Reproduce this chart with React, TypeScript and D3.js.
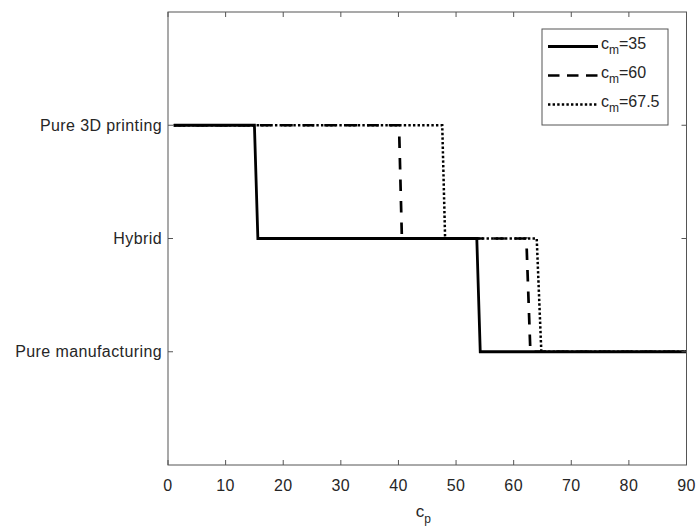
import { useRef, useEffect } from "react";
import * as d3 from "d3";

// categories on the y axis (1 = bottom)
const levels = ["Pure manufacturing", "Hybrid", "Pure 3D printing"];
const xTicks = [0, 10, 20, 30, 40, 50, 60, 70, 80, 90];

// step series
const cm35X = [1, 15.0, 15.6, 53.6, 54.2, 90];
const cm35Y = [3, 3, 2, 2, 1, 1];
const cm60X = [1, 40.1, 40.6, 62.2, 62.9, 90];
const cm60Y = [3, 3, 2, 2, 1, 1];
const cm675X = [1, 47.6, 48.1, 64.0, 64.8, 90];
const cm675Y = [3, 3, 2, 2, 1, 1];

const seriesLabels = ["35", "60", "67.5"];

const INK = "#262626";
const AXIS = "#555";
const FONT = "'Liberation Sans', Arial, Helvetica, sans-serif";

export default function App() {
  const svgRef = useRef<SVGSVGElement>(null);

  useEffect(() => {
    if (!svgRef.current) return;
    const svg = d3.select(svgRef.current);
    svg.selectAll("*").remove();

    const width = 699;
    const height = 531;
    const margin = { top: 12, right: 12.5, bottom: 66, left: 168 };
    const innerW = width - margin.left - margin.right;
    const innerH = height - margin.top - margin.bottom;

    const x = d3.scaleLinear().domain([0, 90]).range([0, innerW]);
    const y = d3.scaleLinear().domain([0, 4]).range([innerH, 0]);

    const g = svg.append("g").attr("transform", `translate(${margin.left},${margin.top})`);

    // series
    const line = d3.line<[number, number]>().x((d) => x(d[0])).y((d) => y(d[1]));
    const series = [
      { xs: cm60X, ys: cm60Y, dash: "11.5 10", width: 2.7 },
      { xs: cm675X, ys: cm675Y, dash: "2.4 2.2", width: 2.5 },
      { xs: cm35X, ys: cm35Y, dash: null as string | null, width: 2.8 },
    ];
    series.forEach((s) => {
      const pts = s.xs.map((v, i) => [v, s.ys[i]] as [number, number]);
      const p = g.append("path").datum(pts).attr("d", line)
        .attr("fill", "none").attr("stroke", "#000").attr("stroke-width", s.width)
        .attr("stroke-linejoin", "miter");
      if (s.dash) p.attr("stroke-dasharray", s.dash);
    });

    // box
    g.append("rect").attr("x", 0).attr("y", 0).attr("width", innerW).attr("height", innerH)
      .attr("fill", "none").attr("stroke", AXIS).attr("stroke-width", 1);

    const tickLen = 5;
    // x ticks (bottom & top, inward)
    g.append("g").selectAll("line.xb").data(xTicks).join("line")
      .attr("x1", (d) => x(d)).attr("x2", (d) => x(d))
      .attr("y1", innerH).attr("y2", innerH - tickLen).attr("stroke", AXIS);
    g.append("g").selectAll("line.xt").data(xTicks).join("line")
      .attr("x1", (d) => x(d)).attr("x2", (d) => x(d))
      .attr("y1", 0).attr("y2", tickLen).attr("stroke", AXIS);
    g.append("g").selectAll("text").data(xTicks).join("text")
      .attr("x", (d) => x(d)).attr("y", innerH + 26)
      .attr("text-anchor", "middle").attr("fill", INK)
      .attr("font-family", FONT).attr("font-size", "16px").attr("letter-spacing", "0.4px")
      .text((d) => String(d));

    // y ticks (left & right, inward)
    const yVals = levels.map((_, i) => i + 1);
    g.append("g").selectAll("line").data(yVals).join("line")
      .attr("x1", 0).attr("x2", tickLen)
      .attr("y1", (d) => y(d)).attr("y2", (d) => y(d)).attr("stroke", AXIS);
    g.append("g").selectAll("line").data(yVals).join("line")
      .attr("x1", innerW).attr("x2", innerW - tickLen)
      .attr("y1", (d) => y(d)).attr("y2", (d) => y(d)).attr("stroke", AXIS);
    g.append("g").selectAll("text").data(levels).join("text")
      .attr("x", -6).attr("y", (_, i) => y(i + 1)).attr("dy", "0.35em")
      .attr("text-anchor", "end").attr("fill", INK)
      .attr("font-family", FONT).attr("font-size", "16px").attr("letter-spacing", "0.4px")
      .text((d) => d);

    // x label c_p
    const xl = svg.append("text")
      .attr("x", margin.left + innerW / 2 - 4).attr("y", height - 14)
      .attr("text-anchor", "middle").attr("fill", INK)
      .attr("font-family", FONT).attr("font-size", "17px");
    xl.append("tspan").text("c");
    xl.append("tspan").attr("font-size", "12px").attr("dy", 6).text("p");

    // legend
    const lg = svg.append("g").attr("transform", "translate(542,29)");
    lg.append("rect").attr("width", 126).attr("height", 96)
      .attr("fill", "#fff").attr("stroke", AXIS).attr("stroke-width", 1);
    const legendStyles = [
      { dash: null as string | null, width: 2.8 },
      { dash: "11.5 7.5", width: 2.7 },
      { dash: "2.4 2.2", width: 2.5 },
    ];
    seriesLabels.forEach((lab, i) => {
      const cy = 17.5 + i * 29;
      const l = lg.append("line").attr("x1", 6).attr("x2", 56)
        .attr("y1", cy).attr("y2", cy)
        .attr("stroke", "#000").attr("stroke-width", legendStyles[i].width);
      if (legendStyles[i].dash) l.attr("stroke-dasharray", legendStyles[i].dash);
      const t = lg.append("text").attr("x", 59).attr("y", cy + 2)
        .attr("fill", INK).attr("font-family", FONT).attr("font-size", "16px");
      t.append("tspan").text("c");
      t.append("tspan").attr("font-size", "12px").attr("dy", 5).text("m");
      t.append("tspan").attr("dy", -5).text("=" + lab);
    });
  }, []);

  return (
    <div style={{ position: "absolute", left: 0, top: 0 }}>
      <svg ref={svgRef} width={699} height={531} style={{ display: "block", background: "#fff" }} />
    </div>
  );
}
